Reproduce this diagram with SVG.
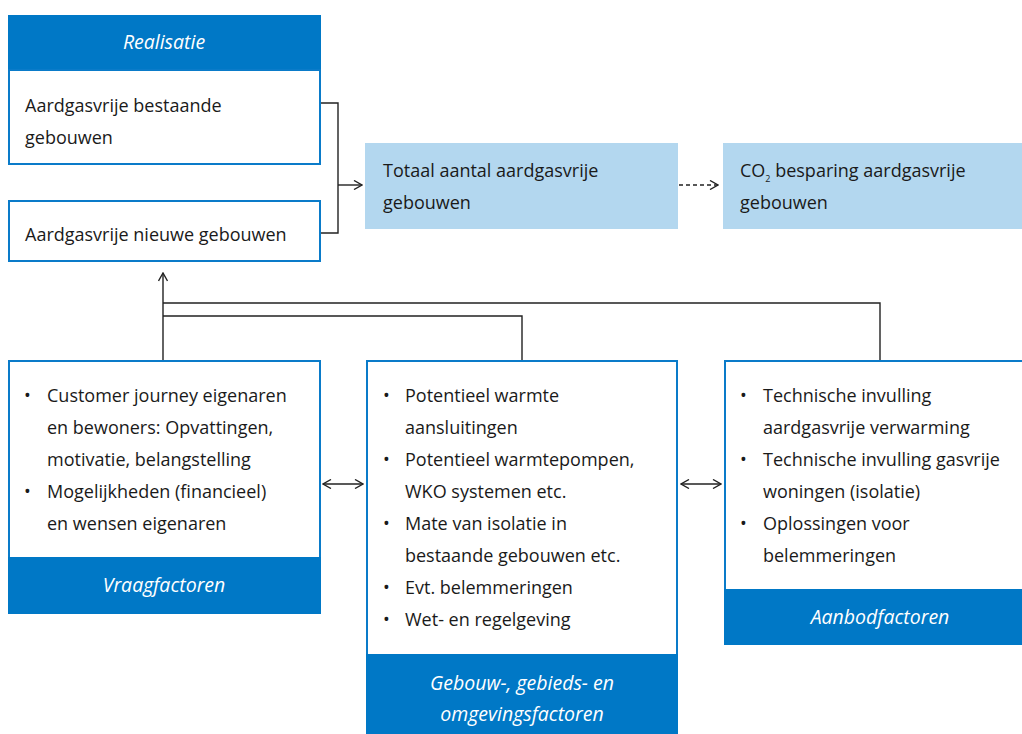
<svg xmlns="http://www.w3.org/2000/svg" width="1022" height="734" viewBox="0 0 1022 734">
<style>
.t{font-family:"Open Sans","Noto Sans",sans-serif;font-size:18px;fill:#1a1a1a}
.h{font-family:"Open Sans","Noto Sans",sans-serif;font-size:19.5px;font-style:italic;fill:#ffffff;text-anchor:middle}
.box{fill:#ffffff;stroke:#0a7bc9;stroke-width:2}
.hdr{fill:#0078c6}
.lb{fill:#b3d7ef}
.c{fill:none;stroke:#222;stroke-width:1.4}
</style>
<defs>
<marker id="ah" viewBox="0 0 10 10" refX="9" refY="5" markerWidth="10" markerHeight="10" markerUnits="userSpaceOnUse" orient="auto-start-reverse">
<path d="M1,0.5 L9,5 L1,9.5" fill="none" stroke="#222" stroke-width="1.4"/>
</marker>
</defs>
<rect width="1022" height="734" fill="#ffffff"/>

<g id="realisatie">
<rect class="hdr" x="8" y="15" width="313" height="56"/>
<text class="h" x="164" y="49">Realisatie</text>
<rect class="box" x="9" y="70" width="311" height="94"/>
<text class="t" x="25" y="112">Aardgasvrije bestaande</text>
<text class="t" x="25" y="144">gebouwen</text>
</g>

<g id="nieuwe">
<rect class="box" x="9" y="201" width="311" height="60"/>
<text class="t" x="25" y="241">Aardgasvrije nieuwe gebouwen</text>
</g>

<g id="totaal">
<rect class="lb" x="365" y="143" width="313" height="86"/>
<text class="t" x="383" y="177">Totaal aantal aardgasvrije</text>
<text class="t" x="383" y="209">gebouwen</text>
</g>

<g id="co2">
<rect class="lb" x="723" y="143" width="299" height="86"/>
<text class="t" x="740" y="177">CO<tspan font-size="9" dy="5">2</tspan><tspan dy="-5"> besparing aardgasvrije</tspan></text>
<text class="t" x="740" y="209">gebouwen</text>
</g>

<g id="vraag">
<rect class="box" x="9" y="361" width="311" height="197"/>
<rect class="hdr" x="8" y="557" width="313" height="57"/>
<text class="h" x="164" y="592">Vraagfactoren</text>
<text class="t" x="24" y="402">•</text>
<text class="t" x="47" y="402">Customer journey eigenaren</text>
<text class="t" x="47" y="434">en bewoners: Opvattingen,</text>
<text class="t" x="47" y="466">motivatie, belangstelling</text>
<text class="t" x="24" y="498">•</text>
<text class="t" x="47" y="498">Mogelijkheden (financieel)</text>
<text class="t" x="47" y="530">en wensen eigenaren</text>
</g>

<g id="gebouw">
<rect class="box" x="367" y="361" width="310" height="294"/>
<rect class="hdr" x="366" y="654" width="312" height="80"/>
<text class="h" x="522" y="690">Gebouw-, gebieds- en</text>
<text class="h" x="522" y="721">omgevingsfactoren</text>
<text class="t" x="383" y="402">•</text>
<text class="t" x="405" y="402">Potentieel warmte</text>
<text class="t" x="405" y="434">aansluitingen</text>
<text class="t" x="383" y="466">•</text>
<text class="t" x="405" y="466">Potentieel warmtepompen,</text>
<text class="t" x="405" y="498">WKO systemen etc.</text>
<text class="t" x="383" y="530">•</text>
<text class="t" x="405" y="530">Mate van isolatie in</text>
<text class="t" x="405" y="562">bestaande gebouwen etc.</text>
<text class="t" x="383" y="594">•</text>
<text class="t" x="405" y="594">Evt. belemmeringen</text>
<text class="t" x="383" y="626">•</text>
<text class="t" x="405" y="626">Wet- en regelgeving</text>
</g>

<g id="aanbod">
<rect class="box" x="725" y="361" width="298" height="229"/>
<rect class="hdr" x="724" y="589" width="298" height="56"/>
<text class="h" x="880" y="624">Aanbodfactoren</text>
<text class="t" x="740" y="402">•</text>
<text class="t" x="763" y="402">Technische invulling</text>
<text class="t" x="763" y="434">aardgasvrije verwarming</text>
<text class="t" x="740" y="466">•</text>
<text class="t" x="763" y="466">Technische invulling gasvrije</text>
<text class="t" x="763" y="498">woningen (isolatie)</text>
<text class="t" x="740" y="530">•</text>
<text class="t" x="763" y="530">Oplossingen voor</text>
<text class="t" x="763" y="562">belemmeringen</text>
</g>

<g id="connectors">
<path class="c" d="M321,103 H338 V233 H321"/>
<path class="c" d="M338,185 H362" marker-end="url(#ah)"/>
<path class="c" d="M679,185 H718" stroke-dasharray="4,3" marker-end="url(#ah)"/>
<path class="c" d="M163,360 V273" marker-end="url(#ah)"/>
<path class="c" d="M163,303 H880 V360"/>
<path class="c" d="M163,316 H522 V360"/>
<path class="c" d="M323,484 H363" marker-start="url(#ah)" marker-end="url(#ah)"/>
<path class="c" d="M681,484 H721" marker-start="url(#ah)" marker-end="url(#ah)"/>
</g>
</svg>
